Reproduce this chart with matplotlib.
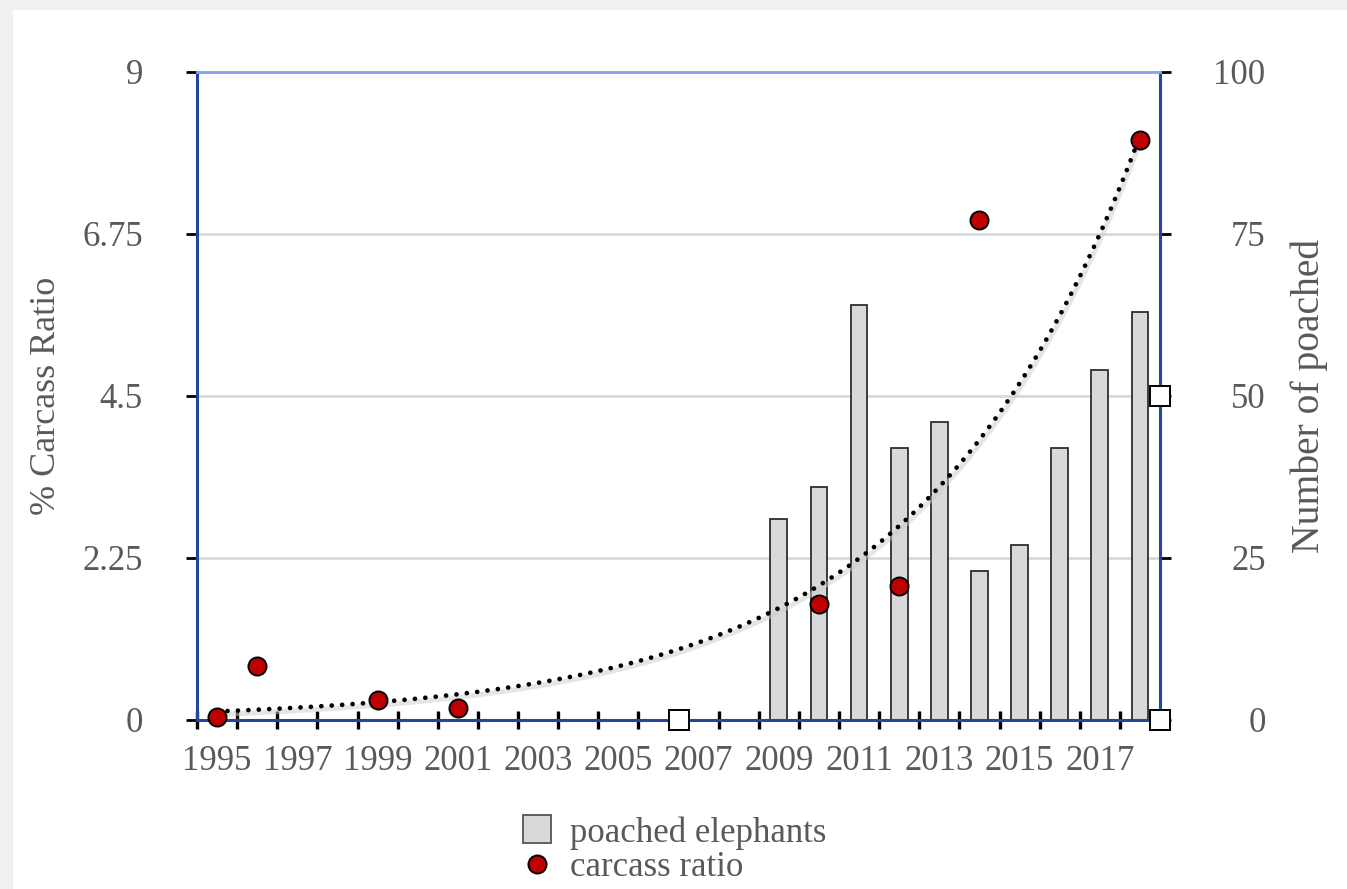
import numpy as np
import matplotlib
matplotlib.use("Agg")
import matplotlib.pyplot as plt
import matplotlib.transforms as mtransforms
from matplotlib.lines import Line2D
from matplotlib.patches import Rectangle

# poached elephants per year (right axis)
bar_years = [2009, 2010, 2011, 2012, 2013, 2014, 2015, 2016, 2017, 2018]
poached = [31, 36, 64, 42, 46, 23, 27, 42, 54, 63]

# carcass ratio in % (left axis)
ratio_years = [1995, 1996, 1999, 2001, 2010, 2012, 2014, 2018]
carcass_ratio = [0.04, 0.75, 0.28, 0.17, 1.61, 1.86, 6.94, 8.06]

years = list(range(1995, 2019))
left_ticks = [0, 2.25, 4.5, 6.75, 9]
left_labels = ["0", "2.25", "4.5", "6.75", "9"]
right_ticks = [0, 25, 50, 75, 100]

txt = "#595959"
serif = ["Liberation Serif", "DejaVu Serif"]
plt.rcParams["font.family"] = serif

fig = plt.figure(figsize=(13.47, 8.89), dpi=100)
fig.patch.set_facecolor("#f0f0f0")
fig.patches.append(Rectangle((13 / 1347, 0), 1, 879 / 889, transform=fig.transFigure,
                             facecolor="white", edgecolor="none", zorder=-5))

ax2 = fig.add_axes([197 / 1347, 169 / 889, 963 / 1347, 648 / 889])
ax = ax2.twinx()
ax.set_zorder(ax2.get_zorder() + 1)
ax.patch.set_visible(False)
ax.xaxis.set_visible(True)

# bars + grid on the right-hand scale
ax2.bar(bar_years, poached, width=0.42, color="#d9d9d9", edgecolor="#2e2e2e", linewidth=1.3, zorder=3)
ax2.set_ylim(0, 100)
ax2.yaxis.grid(True, color="#d9d9d9", linewidth=2, zorder=0)
ax2.set_xlim(1994.5, 2018.5)

# exponential trend of the carcass ratio
b, a = np.polyfit(np.array(ratio_years) - 1995, np.log(carcass_ratio), 1)
tx = np.linspace(1995, 2018, 300)
ty = np.exp(a + b * (tx - 1995))
shadow = mtransforms.offset_copy(ax.transData, fig=fig, x=1.5, y=-3, units="dots")
ax.plot(tx, ty, color="#cccccc", lw=3.5, alpha=0.5, transform=shadow, zorder=2)
ax.plot(tx, ty, color="black", lw=3.4, dashes=(0.01, 2.2), dash_capstyle="round", zorder=3)

ax.plot(ratio_years, carcass_ratio, "o", ms=13, mfc="#c00000", mec="black", mew=1.4,
        zorder=5, clip_on=False)
ax.set_ylim(0, 9)
ax.set_xlim(1994.5, 2018.5)

# left axis carries the % scale, right axis the counts
ax.yaxis.tick_left()
ax.yaxis.set_label_position("left")
ax.set_yticks(left_ticks)
ax.set_yticklabels(left_labels)
ax.tick_params(axis="y", direction="out", length=8, width=2, color="black", pad=31,
               labelsize=25, labelcolor=txt)
for lab in ax.get_yticklabels():
    lab.set_horizontalalignment("right")

ax2.yaxis.tick_right()
ax2.yaxis.set_label_position("right")
ax2.set_yticks(right_ticks)
ax2.set_yticklabels([str(v) for v in right_ticks])
ax2.tick_params(axis="y", direction="out", length=8, width=2, color="black", pad=68,
                labelsize=25, labelcolor=txt)
for lab in ax2.get_yticklabels():
    lab.set_horizontalalignment("right")

# x axis: labels on odd years, tick marks between categories
ax.set_xticks(years[::2])
ax.set_xticklabels([str(y) for y in years[::2]])
ax.set_xticks(np.arange(1994.5, 2019), minor=True)
ax.tick_params(axis="x", which="major", length=0, pad=18, labelsize=25, labelcolor=txt)
ax.tick_params(axis="x", which="minor", direction="inout", length=13, width=2.4, color="black")
ax2.tick_params(axis="x", which="both", length=0, labelbottom=False)

navy = "#23479a"
for s in ["left", "right", "bottom"]:
    ax.spines[s].set_color(navy)
    ax.spines[s].set_linewidth(2.2)
ax.spines["top"].set_color("#7ea6ea")
ax.spines["top"].set_linewidth(2)
for s in ax2.spines.values():
    s.set_visible(False)

ax.set_ylabel("% Carcass Ratio", fontsize=26, color=txt, labelpad=14)
ax2.set_ylabel("Number of poached", fontsize=28.5, color=txt, labelpad=18)

# sizing handles on the plot frame
ax.plot([0.5, 1, 1], [0, 0.5, 0], "s", ms=14, mfc="white", mec="black", mew=1.4,
        transform=ax.transAxes, clip_on=False, zorder=6)

handles = [
    Line2D([], [], ls="none", marker="s", ms=20, mfc="#d9d9d9", mec="#555555", mew=1.3),
    Line2D([], [], ls="none", marker="o", ms=13, mfc="#c00000", mec="black", mew=1.4),
]
fig.legend(handles, ["poached elephants", "carcass ratio"], loc="upper left",
           bbox_to_anchor=(520 / 1347, 1 - 816 / 889), frameon=False, fontsize=25,
           labelcolor=txt, handlelength=1, handletextpad=0.45, labelspacing=0.05,
           borderpad=0, borderaxespad=0)

fig.savefig("out.png", dpi=100, facecolor=fig.get_facecolor())
